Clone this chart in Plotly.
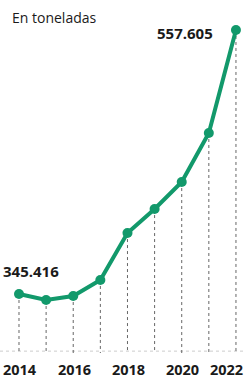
import plotly.graph_objects as go

years = [2014, 2015, 2016, 2017, 2018, 2019, 2020, 2021, 2022]
tons = [345416, 340600, 343800, 356700, 394400, 413700, 435400, 474800, 557605]
tick_years = [2014, 2016, 2018, 2020, 2022]
tick_labels = ["2014", "2016", "2018", "2020", "2022"]

GREEN = "#12996b"
Y0 = 298000
Y1 = 581700
FONT = "Open Sans"

fig = go.Figure()

shapes = []
for x, y in zip(years, tons):
    shapes.append(dict(type="line", xref="x", yref="y", x0=x, x1=x, y0=y, y1=Y0 - 3000,
                       line=dict(color="#666666", width=1, dash="dot"), layer="below"))
shapes.append(dict(type="line", xref="paper", yref="y", x0=0, x1=1, y0=Y0 + 1500, y1=Y0 + 1500,
                   line=dict(color="#cccccc", width=1, dash="dot"), layer="below"))

fig.add_trace(go.Scatter(
    x=years, y=tons, mode="lines+markers",
    line=dict(color=GREEN, width=4),
    marker=dict(color=GREEN, size=10),
    hoverinfo="skip", showlegend=False, cliponaxis=False,
))

fig.add_annotation(x=years[0], y=tons[0], text="<b>345.416</b>", showarrow=False,
                   xanchor="left", yanchor="middle", xshift=-18, yshift=23,
                   font=dict(family=FONT, size=15, color="#1a1a1a"))
fig.add_annotation(x=years[-1], y=tons[-1], text="<b>557.605</b>", showarrow=False,
                   xanchor="right", yanchor="middle", xshift=-21, yshift=-3,
                   font=dict(family=FONT, size=15, color="#1a1a1a"))
fig.add_annotation(xref="paper", yref="paper", x=0.0, y=1.0, xshift=10, yshift=-6,
                   text="En toneladas", showarrow=False, xanchor="left", yanchor="top",
                   font=dict(family=FONT, size=14, color="#1a1a1a"))

for i, (tv, tl) in enumerate(zip(tick_years, tick_labels)):
    last = i == len(tick_years) - 1
    fig.add_annotation(x=tv, xref="x", y=0, yref="paper", yanchor="top", yshift=-5,
                       xanchor="right" if last else "center", xshift=9 if last else 1,
                       text="<b>" + tl + "</b>", showarrow=False,
                       font=dict(family=FONT, size=14.5, color="#1a1a1a"))

fig.update_layout(
    width=246, height=378,
    margin=dict(l=0, r=0, t=0, b=25, autoexpand=False),
    paper_bgcolor="white", plot_bgcolor="white",
    shapes=shapes,
    xaxis=dict(range=[2013.30, 2022.37], showticklabels=False, automargin=False,
               showgrid=False, zeroline=False, showline=False, ticks=""),
    yaxis=dict(range=[Y0, Y1], showgrid=False, zeroline=False, showline=False,
               showticklabels=False, automargin=False),
)

fig.write_html("out.html", config={"displayModeBar": False, "staticPlot": True},
               post_script="document.body.style.margin='0';document.body.style.overflow='hidden';")
